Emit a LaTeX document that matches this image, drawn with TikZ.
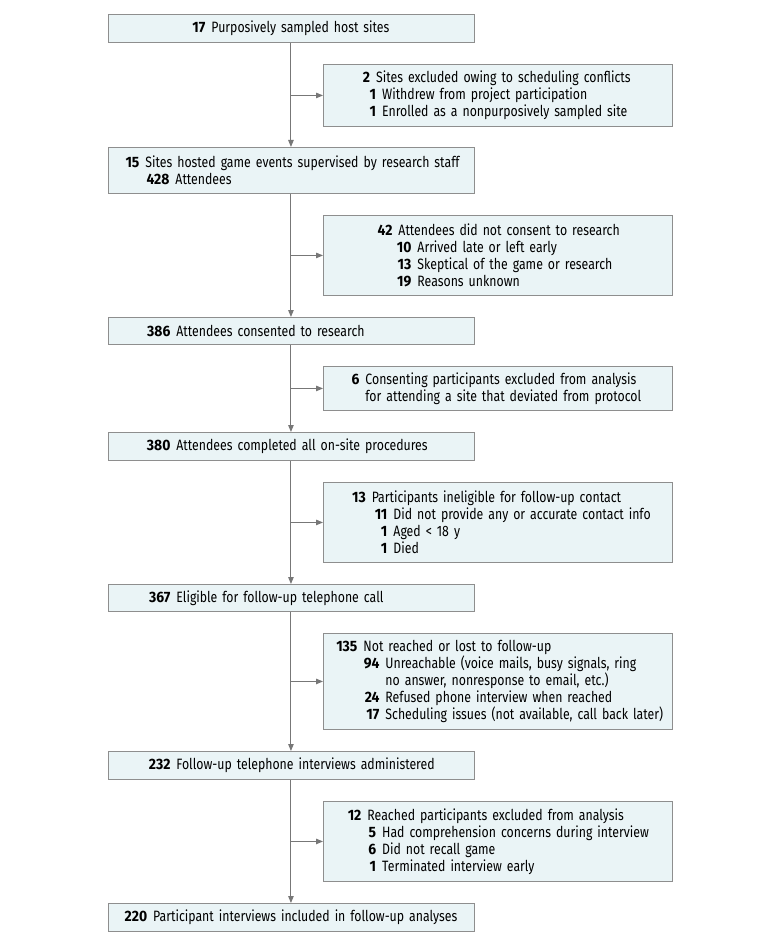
\documentclass[tikz,border=0pt]{standalone}
\usepackage{fontspec}
\setmainfont{Fira Sans}[FakeStretch=0.82]
\newfontfamily\fcnumfont{Fira Sans}[FakeStretch=0.93]
\usetikzlibrary{arrows.meta}
\definecolor{boxfill}{HTML}{EAF4F6}
\definecolor{boxline}{HTML}{8E8E8E}
\definecolor{arrowgray}{HTML}{777777}
\newcommand\fcnum[1]{{\fcnumfont\bfseries #1}}
\newcommand\fcl[3]{\hspace*{#1pt}\llap{\fcnum{#2}\hspace{6pt}}#3}
\newcommand\fcc[2]{\hspace*{#1pt}#2}
\begin{document}
\begin{tikzpicture}[x=1pt,y=-1pt,
  font=\fontsize{15}{17}\selectfont,
  box/.style={draw=boxline, fill=boxfill, line width=0.9pt, inner xsep=0pt, inner ysep=0pt, anchor=north west, align=left},
  mainbox/.style={box, text width=366pt},
  exbox/.style={box, text width=349pt},
  arr/.style={draw=arrowgray, line width=1pt, -{Triangle[length=7pt,width=5.5pt]}, arrowgray}]
\fill[white] (0,0) rectangle (780,944);
\useasboundingbox (0,0) rectangle (780,944);

\node[mainbox, align=center, minimum height=28pt] (b1) at (107.5,14)
  {\fcnum{17}\hspace{6pt}Purposively sampled host sites};
\node[exbox, minimum height=62pt] (e1) at (323,64)
  {\fcl{52.7}{2}{Sites excluded owing to scheduling conflicts}\\
   \fcl{58.7}{1}{Withdrew from project participation}\\
   \fcl{58.7}{1}{Enrolled as a nonpurposively sampled site}};
\node[mainbox, minimum height=46pt] (b2) at (107.5,147)
  {\fcl{37.5}{15}{Sites hosted game events supervised by research staff}\\
   \fcl{67.5}{428}{Attendees}};
\node[exbox, minimum height=80pt] (e2) at (323,215)
  {\fcl{75}{42}{Attendees did not consent to research}\\
   \fcl{94}{10}{Arrived late or left early}\\
   \fcl{94}{13}{Skeptical of the game or research}\\
   \fcl{94}{19}{Reasons unknown}};
\node[mainbox, minimum height=27pt] (b3) at (107.5,317)
  {\fcl{68.5}{386}{Attendees consented to research}};
\node[exbox, minimum height=44pt] (e3) at (323,366)
  {\fcl{42}{6}{Consenting participants excluded from analysis}\\
   \fcc{42}{for attending a site that deviated from protocol}};
\node[mainbox, minimum height=28pt] (b4) at (107.5,432)
  {\fcl{68.5}{380}{Attendees completed all on-site procedures}};
\node[exbox, minimum height=80pt] (e4) at (323,482)
  {\fcl{48.3}{13}{Participants ineligible for follow-up contact}\\
   \fcl{70}{11}{Did not provide any or accurate contact info}\\
   \fcl{70}{1}{Aged < 18 y}\\
   \fcl{70}{1}{Died}};
\node[mainbox, minimum height=27pt] (b5) at (107.5,584)
  {\fcl{68.5}{367}{Eligible for follow-up telephone call}};
\node[exbox, minimum height=96pt] (e5) at (323,633)
  {\fcl{40}{135}{Not reached or lost to follow-up}\\
   \fcl{62}{94}{Unreachable (voice mails, busy signals, ring}\\
   \fcc{62}{no answer, nonresponse to email, etc.)}\\
   \fcl{62}{24}{Refused phone interview when reached}\\
   \fcl{62}{17}{Scheduling issues (not available, call back later)}};
\node[mainbox, minimum height=28pt] (b6) at (107.5,751)
  {\fcl{68.5}{232}{Follow-up telephone interviews administered}};
\node[exbox, minimum height=80pt] (e6) at (323,801)
  {\fcl{44}{12}{Reached participants excluded from analysis}\\
   \fcl{58.7}{5}{Had comprehension concerns during interview}\\
   \fcl{58.7}{6}{Did not recall game}\\
   \fcl{58.7}{1}{Terminated interview early}};
\node[mainbox, align=center, minimum height=28pt] (b7) at (107.5,903)
  {\fcnum{220}\hspace{6pt}Participant interviews included in follow-up analyses};

\draw[arr] (b1.south) -- (b2.north);
\draw[arr] (b2.south) -- (b3.north);
\draw[arr] (b3.south) -- (b4.north);
\draw[arr] (b4.south) -- (b5.north);
\draw[arr] (b5.south) -- (b6.north);
\draw[arr] (b6.south) -- (b7.north);
\draw[arr] (b1.south |- e1.west) -- (e1.west);
\draw[arr] (b2.south |- e2.west) -- (e2.west);
\draw[arr] (b3.south |- e3.west) -- (e3.west);
\draw[arr] (b4.south |- e4.west) -- (e4.west);
\draw[arr] (b5.south |- e5.west) -- (e5.west);
\draw[arr] (b6.south |- e6.west) -- (e6.west);
\end{tikzpicture}
\end{document}
